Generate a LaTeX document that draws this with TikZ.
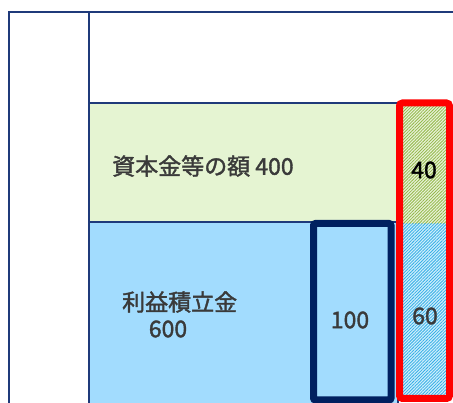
\documentclass[tikz,border=0pt]{standalone}
\usepackage{fontspec}
\setmainfont{Noto Sans CJK JP}[FakeBold=1.6]
\usetikzlibrary{patterns.meta}
\definecolor{frame}{HTML}{1F3A7A}
\definecolor{navy}{HTML}{002060}
\definecolor{lgreen}{HTML}{E5F4D2}
\definecolor{lblue}{HTML}{A2DCFE}
\definecolor{hgreen}{HTML}{E9F2D8}
\definecolor{hgreenl}{HTML}{93B84A}
\definecolor{hblue}{HTML}{CFEFFC}
\definecolor{hbluel}{HTML}{35AEE6}
\definecolor{txt}{HTML}{3A3A3A}
\tikzset{
  lbl/.style={text=txt,font=\fontsize{23}{28}\selectfont,inner sep=0pt},
  thin frame/.style={draw=frame,line width=2.2pt},
  hatch/.style={pattern={Lines[angle=45,distance=2.2pt,line width=0.8pt]}},
}
\begin{document}
\begin{tikzpicture}[x=1pt,y=-1pt]
\useasboundingbox (0,0) rectangle (453,403);
\clip (0,0) rectangle (453,403);
% outer frame
\draw[thin frame] (9,412) -- (9,12) -- (460,12);
\draw[thin frame] (89,12) -- (89,412);
% green and blue regions
\draw[thin frame,fill=lgreen] (89,103) rectangle (398,222);
\draw[thin frame,fill=lblue] (89,222) rectangle (398,412);
% hatched column
\fill[hgreen] (399.5,103) rectangle (449.5,224);
\fill[hatch,pattern color=hgreenl] (399.5,103) rectangle (449.5,224);
\fill[hblue] (399.5,224) rectangle (449.5,398.5);
\fill[hatch,pattern color=hbluel] (399.5,224) rectangle (449.5,398.5);
% thick boxes
\draw[navy,line width=7pt,rounded corners=2pt] (313.5,223.5) rectangle (391,400);
\draw[red,line width=7pt,rounded corners=3pt] (399.5,103) rectangle (449.5,398.5);
% labels
\node[lbl,anchor=west] (cap) at (112,166) {資本金等の額 400};
\node[lbl,anchor=west] (ret) at (122,302) {利益積立金};
\node[lbl] (ret600) at (168,329) {600};
\node[lbl] (hundred) at (350,320) {100};
\node[lbl,text=black] (forty) at (424,170) {40};
\node[lbl] (sixty) at (425,316) {60};
\end{tikzpicture}
\end{document}
